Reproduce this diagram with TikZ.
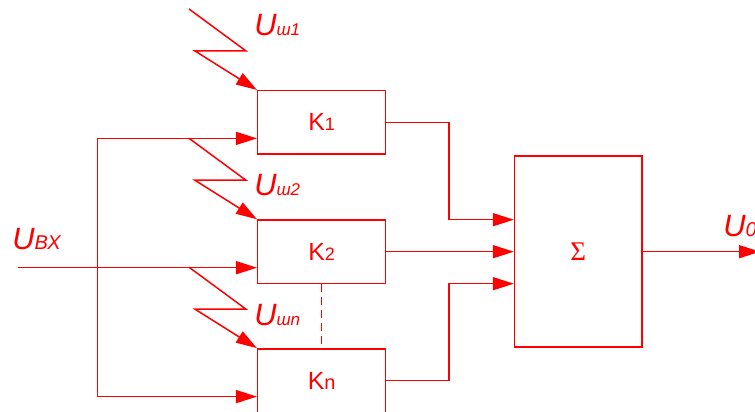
\documentclass[tikz,border=0pt]{standalone}
\usepackage{fontspec}
\setmainfont{Liberation Sans}
\newfontfamily\sigmafont{Liberation Serif}
\usetikzlibrary{arrows.meta, positioning}

\newcommand\subtxt[2]{{\fontsize{#1}{#1}\selectfont #2}}

\begin{document}
\begin{tikzpicture}[
    color=red,
    block/.style={
        draw, rectangle, inner sep=0pt,
        minimum width=63.9pt, minimum height=31.7pt,
        line width=0.75pt, font=\fontsize{12.4}{14}\selectfont
    },
    adder/.style={
        draw, rectangle, inner sep=0pt,
        minimum width=63.7pt, minimum height=95.5pt,
        line width=0.75pt, font=\fontsize{13.5}{15}\selectfont\sigmafont
    },
    volt/.style={inner sep=0pt, anchor=west, font=\fontsize{15.4}{17}\selectfont\itshape},
    signal/.style={->, >={Triangle[length=10.5pt, width=6.5pt]}, line width=0.75pt},
    gap/.style={dashed, dash pattern=on 4pt off 2.5pt, line width=0.75pt},
]
\useasboundingbox (0,0) rectangle (377.5pt,206pt);

% Channel blocks
\node[block] (k2) at (160.8pt,80.15pt) {K\subtxt{9}{2}};
\node[block, above=32.2pt of k2] (k1) {K\subtxt{9}{1}};
\node[block, below=32pt of k2] (kn) {K\subtxt{10}{n}};

% Summing block
\node[adder, right=63.8pt of k2] (sum) {\raisebox{-3.2pt}{Σ}};

% Helper points
\coordinate (src) at (9pt,0);
\coordinate (bus) at (48.85pt,0);
\coordinate (join) at (224.5pt,0);
\coordinate (out) at (380pt,0);
\foreach \k in {k1,k2,kn}
    \coordinate (\k-in) at ([yshift=-8pt]\k.west);
\coordinate (s1) at ([yshift=16pt]sum.west);
\coordinate (s3) at ([yshift=-16pt]sum.west);

% Input signal
\draw[signal] (src |- k2-in) -- (k2-in);
\draw[signal, <->] (k1-in) -- (bus |- k1-in) -- (bus |- kn-in) -- (kn-in);

% Noise inputs
\foreach \k in {k1,k2,kn}
    \draw[signal] ([shift={(-34pt,40.5pt)}]\k.north west)
        -- ++(28.5pt,-21pt) -- ++(-25.5pt,0pt) -- (\k.north west);

\draw[gap] (k2.south) -- (kn.north);

% Channel outputs to the adder
\draw[signal] (k1.east) -- (join |- k1.east) -- (join |- s1) -- (s1);
\draw[signal] (k2.east) -- (sum.west |- k2.east);
\draw[signal] (kn.east) -- (join |- kn.east) -- (join |- s3) -- (s3);
\draw[signal] (sum.east) -- (out |- sum.east);

% Labels
\node[volt] (un1) at ([shift={(-1.5pt,32.5pt)}]k1.north west) {U\subtxt{8.5}{ш1}};
\node[volt] (un2) at ([shift={(-1.5pt,17pt)}]k2.north west) {U\subtxt{8.5}{ш2}};
\node[volt] (unn) at ([shift={(-1.5pt,16.5pt)}]kn.north west) {U\subtxt{8.5}{шn}};
\node[volt] (uin) at (6pt,86.5pt) {U\subtxt{10}{ВХ}};
\node[volt] (uout) at (361.5pt,93pt) {U\subtxt{10}{0}};

\end{tikzpicture}
\end{document}
